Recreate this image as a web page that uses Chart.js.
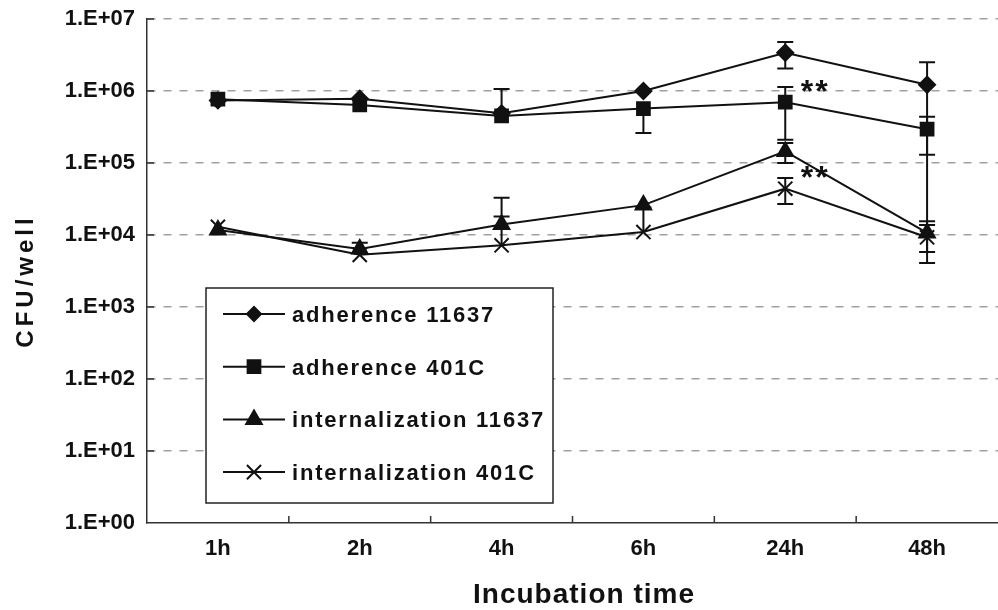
<!DOCTYPE html>
<html>
<head>
<meta charset="utf-8">
<title>CFU/well by incubation time</title>
<script src="https://cdn.jsdelivr.net/npm/chart.js@4.4.0/dist/chart.umd.min.js"></script>
<style>
  html, body { margin: 0; padding: 0; background: #fff; overflow: hidden; }
  #wrap { width: 998px; height: 610px; }
</style>
</head>
<body>
<div id="wrap"><canvas id="cfuChart" width="998" height="610"></canvas></div>
<script>
// data (log scale, CFU per well)
const categories = ['1h', '2h', '4h', '6h', '24h', '48h'];
const yTickLabels = ['1.E+00', '1.E+01', '1.E+02', '1.E+03', '1.E+04', '1.E+05', '1.E+06', '1.E+07'];
const xTitle = 'Incubation time';
const yTitle = 'CFU/well';

const seriesNames = ['adherence 11637', 'adherence 401C', 'internalization 11637', 'internalization 401C'];

const adherence11637 = [7.4e5, 7.8e5, 4.9e5, 1.0e6, 3.4e6, 1.22e6];
const adherence401C = [7.7e5, 6.4e5, 4.5e5, 5.7e5, 7.0e5, 2.95e5];
const internal11637 = [1.17e4, 6.4e3, 1.4e4, 2.6e4, 1.45e5, 1.07e4];
const internal401C = [1.3e4, 5.3e3, 7.2e3, 1.1e4, 4.4e4, 9.3e3];

// error bar ends (null = none visible)
const adherence11637Hi = [null, null, 1.07e6, null, 4.8e6, 2.5e6];
const adherence11637Lo = [null, null, null, null, 2.05e6, 1.38e4];
const adherence401CHi = [null, null, null, null, 1.14e6, 4.4e5];
const adherence401CLo = [null, null, null, 2.6e5, 2.1e5, 1.3e5];
const internal11637Hi = [null, 7.8e3, 3.3e4, null, 1.9e5, 1.55e4];
const internal11637Lo = [null, null, null, null, 1.0e5, 5.8e3];
const internal401CHi = [null, null, 1.8e4, 2.4e4, 6.2e4, null];
const internal401CLo = [null, null, null, null, 2.7e4, 4.1e3];

// significance marks
const noteCategory = [4, 4];
const noteValue = [1.14e6, 7.2e4];
const noteText = ['**', '**'];

const seriesValues = [adherence11637, adherence401C, internal11637, internal401C];
const seriesHi = [adherence11637Hi, adherence401CHi, internal11637Hi, internal401CHi];
const seriesLo = [adherence11637Lo, adherence401CLo, internal11637Lo, internal401CLo];
const pointStyles = ['rectRot', 'rect', 'triangle', 'crossRot'];
const pointRadii = [8, 9, 9, 10];
const legendRadii = [7, 9, 9, 10];

const INK = '#111';
const SANS = "'Liberation Sans', Arial, sans-serif";

const errorBars = {
    id: 'errorBars',
    beforeDatasetsDraw(chart) {
        const ctx = chart.ctx;
        const yScale = chart.scales.y;
        ctx.save();
        ctx.strokeStyle = INK;
        ctx.lineWidth = 2;
        chart.data.datasets.forEach((ds, i) => {
            const meta = chart.getDatasetMeta(i);
            meta.data.forEach((pt, j) => {
                [ds.errHi[j], ds.errLo[j]].forEach(v => {
                    if (v == null) return;
                    const ye = yScale.getPixelForValue(v);
                    ctx.beginPath();
                    ctx.moveTo(pt.x, pt.y);
                    ctx.lineTo(pt.x, ye);
                    ctx.moveTo(pt.x - 8, ye);
                    ctx.lineTo(pt.x + 8, ye);
                    ctx.stroke();
                });
            });
        });
        ctx.restore();
    }
};

const extras = {
    id: 'extras',
    afterDatasetsDraw(chart) {
        const ctx = chart.ctx;
        const area = chart.chartArea;
        const xs = chart.scales.x, ys = chart.scales.y;
        ctx.save();

        // inward tick marks
        ctx.strokeStyle = '#333';
        ctx.lineWidth = 1.5;
        ctx.beginPath();
        ys.ticks.forEach(t => {
            if (t.value <= 1) return;
            const py = ys.getPixelForValue(t.value);
            ctx.moveTo(area.left, py);
            ctx.lineTo(area.left + 7, py);
        });
        for (let i = 0; i < categories.length - 1; i++) {
            const px = (xs.getPixelForValue(i) + xs.getPixelForValue(i + 1)) / 2;
            ctx.moveTo(px, area.bottom);
            ctx.lineTo(px, area.bottom - 7);
        }
        ctx.stroke();

        // legend box
        const lx = 206, ly = 288, lw = 347, lh = 215;
        ctx.fillStyle = '#fff';
        ctx.fillRect(lx, ly, lw, lh);
        ctx.strokeStyle = '#222';
        ctx.lineWidth = 1.5;
        ctx.strokeRect(lx, ly, lw, lh);
        ctx.font = 'bold 22px ' + SANS;
        ctx.textAlign = 'left';
        ctx.textBaseline = 'alphabetic';
        chart.data.datasets.forEach((ds, i) => {
            const cy = 314 + i * 52.7;
            ctx.strokeStyle = INK;
            ctx.fillStyle = INK;
            ctx.lineWidth = 2;
            ctx.beginPath();
            ctx.moveTo(223, cy);
            ctx.lineTo(285, cy);
            ctx.stroke();
            Chart.helpers.drawPoint(ctx, {
                pointStyle: ds.pointStyle, radius: legendRadii[i], borderWidth: 2, rotation: 0
            }, 254, cy);
            ctx.letterSpacing = '1.8px';
            ctx.fillText(ds.label, 292, cy + 8);
            ctx.letterSpacing = '0px';
        });

        // significance marks
        ctx.fillStyle = INK;
        ctx.font = 'bold 32px ' + SANS;
        ctx.textAlign = 'center';
        ctx.letterSpacing = '2px';
        noteText.forEach((txt, k) => {
            const px = xs.getPixelForValue(noteCategory[k]) + 30;
            const py = ys.getPixelForValue(noteValue[k]);
            ctx.fillText(txt, px, py + 15);
        });

        // axis titles
        ctx.font = 'bold 28px ' + SANS;
        ctx.letterSpacing = '1px';
        ctx.textAlign = 'center';
        ctx.fillText(xTitle, 584, 603);
        ctx.font = 'bold 24px ' + SANS;
        ctx.letterSpacing = '4px';
        ctx.translate(33, 283);
        ctx.rotate(-Math.PI / 2);
        ctx.fillText(yTitle, 2, 0);
        ctx.restore();
    }
};

const cfuCtx = document.getElementById('cfuChart').getContext('2d');
new Chart(cfuCtx, {
    type: 'line',
    data: {
        labels: categories,
        datasets: seriesNames.map((name, i) => ({
            label: name,
            data: seriesValues[i],
            errHi: seriesHi[i],
            errLo: seriesLo[i],
            borderColor: INK,
            backgroundColor: INK,
            borderWidth: 2,
            pointStyle: pointStyles[i],
            pointRadius: pointRadii[i],
            pointBorderWidth: 2,
            pointBackgroundColor: INK,
            pointBorderColor: INK,
            tension: 0,
            fill: false
        }))
    },
    options: {
        responsive: false,
        animation: false,
        devicePixelRatio: 1,
        // the plot runs slightly past the right edge of the figure
        layout: { autoPadding: false, padding: { top: 19, right: -3, bottom: 0, left: 0 } },
        plugins: { legend: { display: false }, tooltip: { enabled: false } },
        scales: {
            x: {
                type: 'category',
                offset: true,
                grid: { display: false, drawTicks: false },
                border: { display: true, color: '#333', width: 1.5 },
                ticks: { color: INK, font: { family: SANS, size: 22, weight: 'bold' }, padding: 13, maxRotation: 0 },
                afterFit: s => { s.height = 87; s.paddingLeft = 0; s.paddingRight = 0; }
            },
            y: {
                type: 'logarithmic',
                min: 1,
                max: 1e7,
                grid: {
                    color: c => (c.tick && c.tick.value <= 1) ? 'rgba(0,0,0,0)' : '#a0a0a0',
                    lineWidth: 1.5,
                    drawTicks: false
                },
                border: { display: true, color: '#333', width: 1.5, dash: [8, 8] },
                afterBuildTicks: s => { s.ticks = yTickLabels.map((_, k) => ({ value: Math.pow(10, k) })); },
                ticks: {
                    color: INK,
                    font: { family: SANS, size: 22, weight: 'bold' },
                    padding: 12,
                    callback: (v, idx) => yTickLabels[idx]
                },
                afterFit: s => { s.width = 147; s.paddingTop = 0; s.paddingBottom = 0; }
            }
        }
    },
    plugins: [errorBars, extras]
});
</script>
</body>
</html>
